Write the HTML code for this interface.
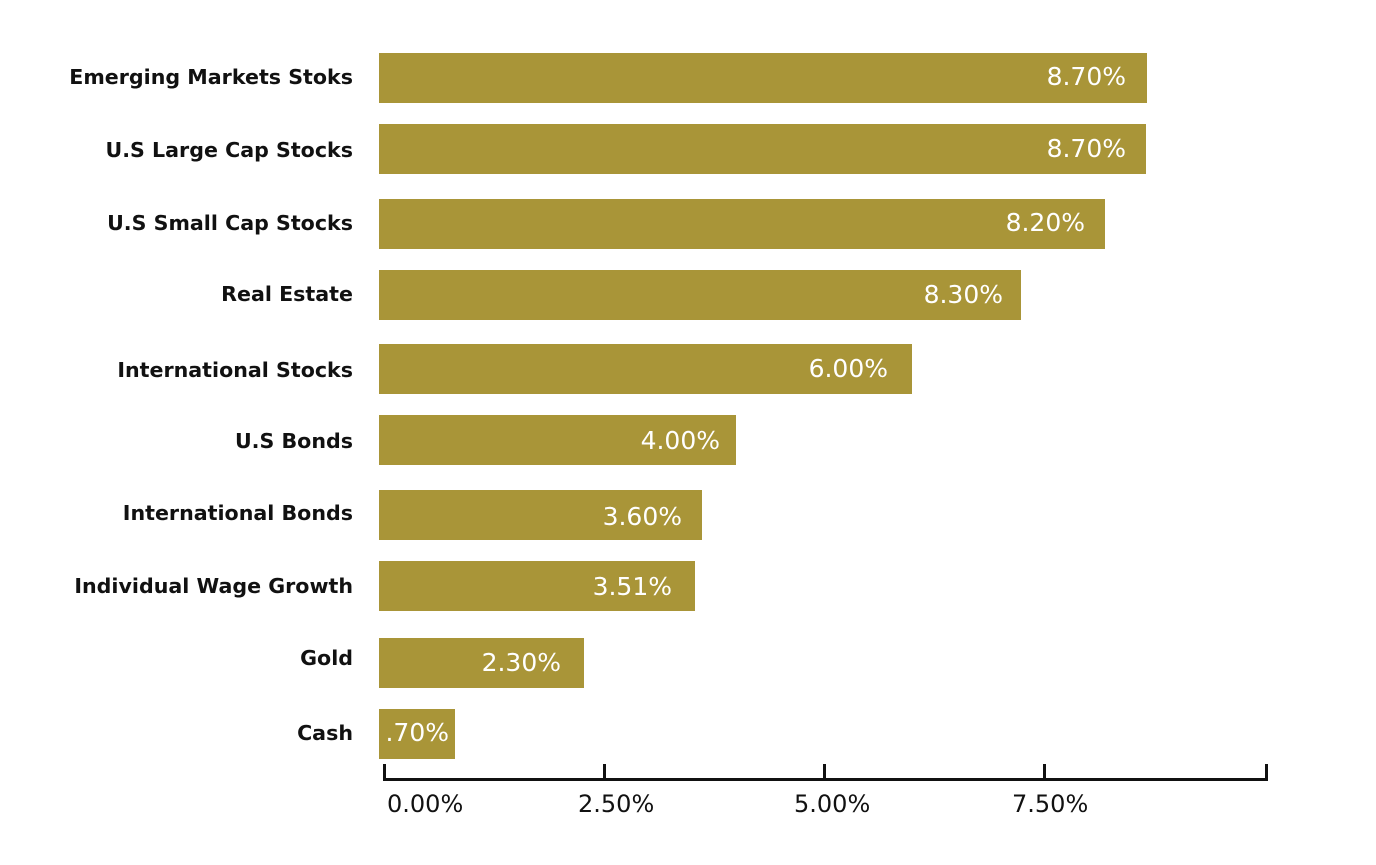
<!DOCTYPE html>
<html><head><style>
body{margin:0;width:1376px;height:865px;background:#fff;position:relative;font-family:"DejaVu Sans","Liberation Sans",sans-serif;overflow:hidden}
.l{position:absolute;right:1023px;font-size:20.6px;font-weight:bold;color:#111;line-height:48px;white-space:nowrap}
.b{position:absolute;left:379px;height:50px;background:#a99538}
.v{position:absolute;color:#fff;font-size:25px;line-height:50px;text-align:right;white-space:nowrap}
.t{position:absolute;font-size:24px;color:#111;top:790px}
</style></head><body>
<div class="l" style="top:53px">Emerging Markets Stoks</div><div class="b" style="top:53px;width:768px"></div><div class="v" style="top:52px;right:250px">8.70%</div>
<div class="l" style="top:126px">U.S Large Cap Stocks</div><div class="b" style="top:124px;width:767px"></div><div class="v" style="top:124px;right:250px">8.70%</div>
<div class="l" style="top:199px">U.S Small Cap Stocks</div><div class="b" style="top:199px;width:726px"></div><div class="v" style="top:198px;right:291px">8.20%</div>
<div class="l" style="top:270px">Real Estate</div><div class="b" style="top:270px;width:642px"></div><div class="v" style="top:270px;right:373px">8.30%</div>
<div class="l" style="top:346px">International Stocks</div><div class="b" style="top:344px;width:533px"></div><div class="v" style="top:344px;right:488px">6.00%</div>
<div class="l" style="top:417px">U.S Bonds</div><div class="b" style="top:415px;width:357px"></div><div class="v" style="top:416px;right:656px">4.00%</div>
<div class="l" style="top:489px">International Bonds</div><div class="b" style="top:490px;width:323px"></div><div class="v" style="top:492px;right:694px">3.60%</div>
<div class="l" style="top:562px">Individual Wage Growth</div><div class="b" style="top:561px;width:316px"></div><div class="v" style="top:562px;right:704px">3.51%</div>
<div class="l" style="top:634px">Gold</div><div class="b" style="top:638px;width:205px"></div><div class="v" style="top:638px;right:815px">2.30%</div>
<div class="l" style="top:709px">Cash</div><div class="b" style="top:709px;width:76px"></div><div class="v" style="top:708px;right:927px">.70%</div>
<div style="position:absolute;left:383px;top:778px;width:885px;height:3px;background:#111"></div>
<div style="position:absolute;left:383px;top:764px;width:3px;height:16px;background:#111"></div>
<div style="position:absolute;left:603px;top:764px;width:3px;height:16px;background:#111"></div>
<div style="position:absolute;left:823px;top:764px;width:3px;height:16px;background:#111"></div>
<div style="position:absolute;left:1043px;top:764px;width:3px;height:16px;background:#111"></div>
<div style="position:absolute;left:1265px;top:764px;width:3px;height:16px;background:#111"></div>
<div class="t" style="left:387px">0.00%</div>
<div class="t" style="left:578px">2.50%</div>
<div class="t" style="left:794px">5.00%</div>
<div class="t" style="left:1012px">7.50%</div>
</body></html>
